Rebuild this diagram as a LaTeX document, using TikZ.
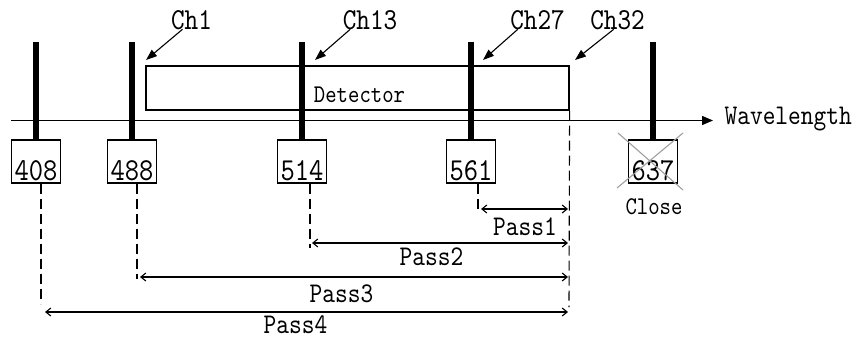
\documentclass[tikz,border=0pt]{standalone}
\usepackage{fontspec}
\usetikzlibrary{arrows.meta}
\newfontfamily\mfont[FakeStretch=0.85]{lmmono10-regular.otf}
\newcommand{\fsz}[1]{\fontsize{#1}{#1}\selectfont}
\begin{document}
\begin{tikzpicture}[x=1pt,y=-1pt, line width=1.2pt,
  bar/.style={line width=6pt},
  numbox/.style={draw, fill=white, minimum width=49pt, minimum height=43pt, inner sep=0pt},
  numtxt/.style={font=\mfont\fsz{32}, inner sep=0pt, anchor=base},
  chlbl/.style={font=\mfont\fsz{30.5}, inner sep=0pt},
  passlbl/.style={font=\mfont\fsz{28.5}, inner sep=0pt},
  smalllbl/.style={font=\mfont\fsz{25.5}, inner sep=0pt},
  dim/.style={{Straight Barb[length=5pt,width=8pt]}-{Straight Barb[length=5pt,width=8pt]}, line width=1.1pt},
  guide/.style={dash pattern=on 10pt off 5pt, line width=1.1pt},
  callout/.style={-{Triangle[length=11pt,width=8pt]}, line width=1.1pt}
]
\useasboundingbox (0,0) rectangle (857,340);

% axis
\coordinate (ax0) at (11,120.5);
\node[passlbl, anchor=west] (wl) at (724,119) {Wavelength};
\draw[-{Triangle[length=11pt,width=9pt]}, line width=1.3pt, shorten >=11pt] (ax0) -- (ax0 -| wl.west);

% detector
\node[draw, minimum width=423pt, minimum height=44pt, inner sep=0pt] (det) at (357.5,88) {};
\node[smalllbl, anchor=base] (dettxt) at (359.5,102.5) {Detector};

% boxes
\node[numbox] (b408) at (36,161.5) {};
\node[numbox] (b488) at (132,161.5) {};
\node[numbox] (b514) at (302,161.5) {};
\node[numbox] (b561) at (471,161.5) {};
\node[numbox] (b637) at (653,161.5) {};
\node[numtxt] at ([yshift=3pt]b408.south) {408};
\node[numtxt] at ([yshift=3pt]b488.south) {488};
\node[numtxt] at ([yshift=3pt]b514.south) {514};
\node[numtxt] at ([yshift=3pt]b561.south) {561};
\node[numtxt] at ([yshift=3pt]b637.south) {637};

% bars
\draw[bar] (36,42) -- (b408.north);
\draw[bar] (132,42) -- (b488.north);
\draw[bar] (302,42) -- (b514.north);
\draw[bar] (471,42) -- (b561.north);
\draw[bar] (653,42) -- (b637.north);

% cross on 637
\draw[gray!75, line width=1.1pt] (618,133) -- (683,190) (683,133) -- (617,188);
\node[smalllbl] (close) at (654,207) {Close};

% channel labels
\node[chlbl] (ch1) at (191.5,20) {Ch1};
\node[chlbl] (ch13) at (370,20) {Ch13};
\node[chlbl] (ch27) at (537.5,20) {Ch27};
\node[chlbl] (ch32) at (617.5,20) {Ch32};
\coordinate (t1) at (146,60);
\coordinate (t13) at (315,60);
\coordinate (t27) at (483,60);
\coordinate (t32) at (575,60);
\draw[callout] ([xshift=12pt]ch1.base west) -- (t1);
\draw[callout] ([xshift=8pt]ch13.base west) -- (t13);
\draw[callout] ([xshift=8pt]ch27.base west) -- (t27);
\draw[callout] ([xshift=24pt]ch32.base west) -- (t32);

% guides
\coordinate (gEnd) at (569,307);
\draw[guide] (det.south east) -- (gEnd);
\draw[guide] ([xshift=5pt]b408.south) -- ++(0,120);
\draw[guide] ([xshift=5pt]b488.south) -- ++(0,95);
\draw[guide] ([xshift=8pt]b514.south) -- ++(0,64);
\draw[guide] ([xshift=7pt]b561.south) -- ++(0,27);

% pass arrows
\coordinate (p1a) at (481,209); \coordinate (p1b) at (568,209);
\coordinate (p2a) at (312,243); \coordinate (p2b) at (568,243);
\coordinate (p3a) at (140,277); \coordinate (p3b) at (568,277);
\coordinate (p4a) at (45,312);  \coordinate (p4b) at (568,312);
\draw[dim] (p1a) -- (p1b);
\draw[dim] (p2a) -- (p2b);
\draw[dim] (p3a) -- (p3b);
\draw[dim] (p4a) -- (p4b);
\node[passlbl] (pass1) at (525,227) {Pass1};
\node[passlbl] (pass2) at (431.5,257) {Pass2};
\node[passlbl] (pass3) at (341.5,294) {Pass3};
\node[passlbl] (pass4) at (295.5,325) {Pass4};
\end{tikzpicture}
\end{document}
